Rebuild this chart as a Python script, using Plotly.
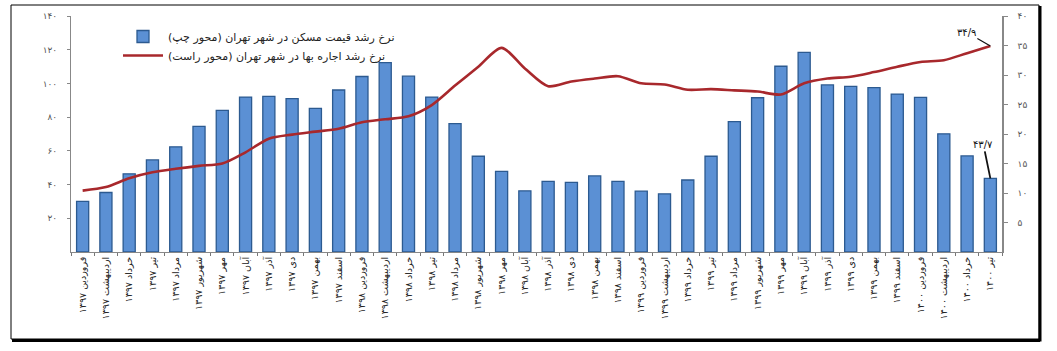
import plotly.graph_objects as go

# ---- data ----
months = [
    "فروردین ۱۳۹۷", "اردیبهشت ۱۳۹۷", "خرداد ۱۳۹۷", "تیر ۱۳۹۷", "مرداد ۱۳۹۷", "شهریور ۱۳۹۷",
    "مهر ۱۳۹۷", "آبان ۱۳۹۷", "آذر ۱۳۹۷", "دی ۱۳۹۷", "بهمن ۱۳۹۷", "اسفند ۱۳۹۷",
    "فروردین ۱۳۹۸", "اردیبهشت ۱۳۹۸", "خرداد ۱۳۹۸", "تیر ۱۳۹۸", "مرداد ۱۳۹۸", "شهریور ۱۳۹۸",
    "مهر ۱۳۹۸", "آبان ۱۳۹۸", "آذر ۱۳۹۸", "دی ۱۳۹۸", "بهمن ۱۳۹۸", "اسفند ۱۳۹۸",
    "فروردین ۱۳۹۹", "اردیبهشت ۱۳۹۹", "خرداد ۱۳۹۹", "تیر ۱۳۹۹", "مرداد ۱۳۹۹", "شهریور ۱۳۹۹",
    "مهر ۱۳۹۹", "آبان ۱۳۹۹", "آذر ۱۳۹۹", "دی ۱۳۹۹", "بهمن ۱۳۹۹", "اسفند ۱۳۹۹",
    "فروردین ۱۴۰۰", "اردیبهشت ۱۴۰۰", "خرداد ۱۴۰۰", "تیر ۱۴۰۰",
]

house_price_growth = [
    30.0, 35.3, 46.4, 54.6, 62.4, 74.5, 84.0, 91.9, 92.3, 91.0, 85.2, 96.1,
    104.1, 112.4, 104.3, 91.9, 76.2, 56.8, 47.8, 36.3, 41.9, 41.3, 45.1, 41.9,
    36.1, 34.5, 42.7, 56.8, 77.4, 91.5, 110.2, 118.4, 99.1, 98.3, 97.5, 93.7,
    91.7, 70.1, 57.0, 43.7,
]

rent_growth = [
    10.4, 11.0, 12.5, 13.5, 14.1, 14.6, 15.0, 16.9, 19.2, 19.9, 20.4, 20.9,
    22.0, 22.5, 23.0, 24.9, 28.2, 31.4, 34.6, 31.1, 28.1, 28.9, 29.4, 29.8,
    28.6, 28.4, 27.5, 27.6, 27.4, 27.2, 26.7, 28.6, 29.4, 29.7, 30.5, 31.4,
    32.2, 32.5, 33.7, 34.9,
]

left_ticks = [20, 40, 60, 80, 100, 120, 140]
left_tick_text = ["۲۰", "۴۰", "۶۰", "۸۰", "۱۰۰", "۱۲۰", "۱۴۰"]
right_ticks = [5, 10, 15, 20, 25, 30, 35, 40]
right_tick_text = ["۵", "۱۰", "۱۵", "۲۰", "۲۵", "۳۰", "۳۵", "۴۰"]

name_price = "\u200fنرخ رشد قیمت مسکن در شهر تهران (محور چپ)\u200f"
name_rent = "\u200fنرخ رشد اجاره بها در شهر تهران (محور راست)\u200f"
label_rent_last = "۳۴/۹"
label_price_last = "۴۳/۷"

FONT = "DejaVu Sans"

fig = go.Figure()
fig.add_trace(go.Bar(
    x=months, y=house_price_growth, name=name_price,
    marker=dict(color="#5B90D4", line=dict(color="#2C5A90", width=1.3)),
    yaxis="y",
))
fig.add_trace(go.Scatter(
    x=months, y=rent_growth, name=name_rent, mode="lines",
    line=dict(color="#A8282C", width=2.6, shape="spline", smoothing=0.8),
    yaxis="y2",
))

fig.add_annotation(
    x=months[-1], y=rent_growth[-1], xref="x", yref="y2",
    text=label_rent_last, showarrow=True, arrowhead=0, arrowwidth=1.2,
    arrowcolor="#111", ax=-24, ay=-14,
    font=dict(family=FONT, size=10, color="#111"),
)
fig.add_annotation(
    x=months[-1], y=house_price_growth[-1], xref="x", yref="y",
    text=label_price_last, showarrow=True, arrowhead=0, arrowwidth=1.8,
    arrowcolor="#111", ax=-7, ay=-34,
    font=dict(family=FONT, size=10, color="#111"),
)

# frame around the chart (styling only)
W, L, T, H = 931.0, 71.0, 16.0, 236.0
def px_x(p):
    return (p - L) / W
def px_y(p):
    return (252.0 - p) / H

fig.add_shape(type="rect", xref="paper", yref="paper",
              x0=px_x(11), x1=px_x(1039), y0=px_y(339), y1=px_y(5),
              line=dict(color="#000", width=1))
fig.add_shape(type="line", xref="paper", yref="paper",
              x0=px_x(12), x1=px_x(1040), y0=px_y(340.5), y1=px_y(340.5),
              line=dict(color="#000", width=3))
fig.add_shape(type="line", xref="paper", yref="paper",
              x0=px_x(1040), x1=px_x(1040), y0=px_y(6), y1=px_y(341.5),
              line=dict(color="#000", width=3))

fig.update_layout(
    width=1057, height=351,
    margin=dict(l=71, r=55, t=16, b=99),
    paper_bgcolor="white", plot_bgcolor="white",
    font=dict(family=FONT, size=9, color="#333"),
    bargap=0.48,
    showlegend=True,
    legend=dict(
        x=px_x(118), y=px_y(22), xanchor="left", yanchor="top",
        bgcolor="rgba(0,0,0,0)", font=dict(family=FONT, size=11, color="#222"),
        itemwidth=40, tracegroupgap=0,
    ),
    xaxis=dict(
        type="category", tickangle=-90, showline=True, linecolor="#888", linewidth=1,
        ticks="outside", ticklen=3, tickcolor="#777", tickson="boundaries",
        showgrid=False, tickfont=dict(family=FONT, size=9.5, color="#222"),
    ),
    yaxis=dict(
        range=[0, 140], tickvals=left_ticks, ticktext=left_tick_text,
        showline=True, linecolor="#888", linewidth=1, ticks="outside", ticklen=3,
        tickcolor="#888", showgrid=False, zeroline=False,
        tickfont=dict(family=FONT, size=9, color="#555"), ticklabelstandoff=8,
    ),
    yaxis2=dict(
        range=[0, 40], tickvals=right_ticks, ticktext=right_tick_text,
        overlaying="y", side="right",
        showline=True, linecolor="#888", linewidth=1.5, ticks="outside", ticklen=4,
        tickcolor="#888", showgrid=False, zeroline=False,
        tickfont=dict(family=FONT, size=9, color="#555"), ticklabelstandoff=8,
    ),
)

fig.write_html("out.html")
